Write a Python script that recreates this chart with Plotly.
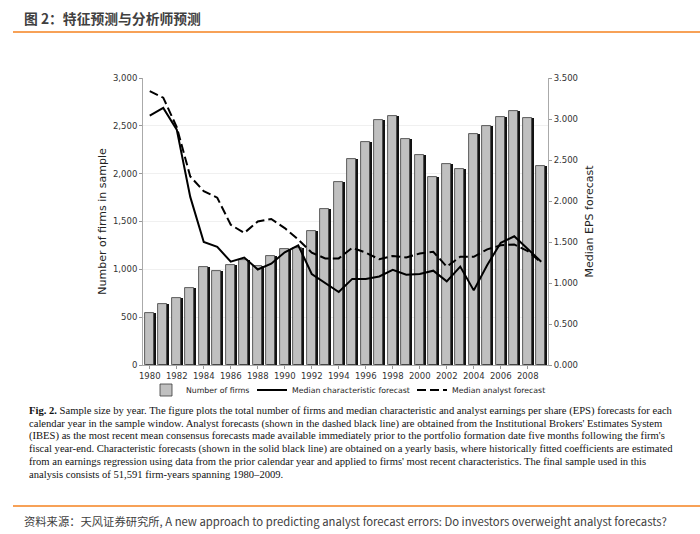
import plotly.graph_objects as go

years = list(range(1980, 2010))
firms = [545, 640, 705, 800, 1025, 985, 1050, 1100, 1040, 1135,
         1215, 1225, 1405, 1630, 1915, 2150, 2330, 2560, 2605, 2360,
         2200, 1965, 2105, 2045, 2410, 2495, 2595, 2660, 2580, 2085]
char_fc = [3.04, 3.135, 2.87, 2.05, 1.50, 1.44, 1.26, 1.31, 1.165, 1.235,
           1.375, 1.46, 1.11, 1.00, 0.89, 1.05, 1.05, 1.08, 1.16, 1.10,
           1.11, 1.15, 1.02, 1.20, 0.91, 1.22, 1.49, 1.57, 1.41, 1.26]
analyst_fc = [3.34, 3.26, 2.90, 2.30, 2.12, 2.04, 1.71, 1.61, 1.75, 1.78,
              1.67, 1.53, 1.37, 1.30, 1.30, 1.43, 1.37, 1.29, 1.33, 1.31,
              1.36, 1.38, 1.20, 1.32, 1.32, 1.41, 1.46, 1.47, 1.39, 1.25]
left_ticks = [0, 500, 1000, 1500, 2000, 2500, 3000]
right_ticks = [0, 0.5, 1.0, 1.5, 2.0, 2.5, 3.0, 3.5]
label_years = list(range(1980, 2009, 2))

title_text = "图 2：特征预测与分析师预测"
caption_lines = [
    "<b>Fig. 2.</b> Sample size by year. The figure plots the total number of firms and median characteristic and analyst earnings per share (EPS) forecasts for each",
    "calendar year in the sample window. Analyst forecasts (shown in the dashed black line) are obtained from the Institutional Brokers' Estimates System",
    "(IBES) as the most recent mean consensus forecasts made available immediately prior to the portfolio formation date five months following the firm's",
    "fiscal year-end. Characteristic forecasts (shown in the solid black line) are obtained on a yearly basis, where historically fitted coefficients are estimated",
    "from an earnings regression using data from the prior calendar year and applied to firms' most recent characteristics. The final sample used in this",
    "analysis consists of 51,591 firm-years spanning 1980–2009.",
]
source_text = "资料来源：天风证券研究所, A new approach to predicting analyst forecast errors: Do investors overweight analyst forecasts?"

W, H = 700, 534
L, R, T, B = 143, 548, 78, 365


def px_x(px):
    return (px - L) / (R - L)


def px_y(py):
    return (B - py) / (B - T)


fig = go.Figure()
fig.add_trace(go.Bar(x=years, y=firms, width=0.74, offset=-0.3,
                     marker=dict(color="#111111", line=dict(width=0)),
                     showlegend=False, hoverinfo="skip"))
fig.add_trace(go.Bar(x=years, y=firms, width=0.67, offset=-0.37,
                     marker=dict(color="#c0c0c0", line=dict(color="#3a3a3a", width=0.8)),
                     name="Number of firms", legend="legend"))
fig.add_trace(go.Scatter(x=years, y=char_fc, yaxis="y2", mode="lines",
                         line=dict(color="black", width=2),
                         name="Median characteristic forecast", legend="legend2"))
fig.add_trace(go.Scatter(x=years, y=analyst_fc, yaxis="y2", mode="lines",
                         line=dict(color="black", width=2, dash="9px,4px"),
                         name="Median analyst forecast", legend="legend3"))

axis_font = dict(family="DejaVu Sans", size=8.5, color="#333333")
leg_font = dict(family="DejaVu Sans", size=7.8, color="#222222")


def leg(xpx):
    return dict(orientation="h", x=px_x(xpx), y=px_y(390), xanchor="left", yanchor="middle",
                font=leg_font, bgcolor="rgba(0,0,0,0)", borderwidth=0, itemwidth=30)


fig.update_layout(
    width=W, height=H,
    margin=dict(l=L, r=W - R, t=T, b=H - B, pad=0, autoexpand=False),
    paper_bgcolor="white", plot_bgcolor="white",
    barmode="overlay", bargap=0,
    showlegend=True,
    legend=leg(146), legend2=leg(252), legend3=leg(412),
    xaxis=dict(range=[1979.5, 2009.5], tickmode="array", tickvals=label_years,
               ticktext=[str(y) for y in label_years], ticks="outside", ticklen=3,
               tickcolor="#999999", showline=True, linecolor="#aaaaaa", linewidth=1,
               showgrid=False, zeroline=False, tickfont=axis_font),
    yaxis=dict(range=[0, 3000], tickmode="array", tickvals=left_ticks,
               tickformat=",", ticks="outside", ticklen=3, tickcolor="#999999",
               showline=True, linecolor="#aaaaaa", linewidth=1,
               showgrid=True, gridcolor="#f0f0f0", zeroline=False, tickfont=axis_font,
               title=dict(text="Number of firms in sample", standoff=4,
                          font=dict(family="DejaVu Sans", size=11, color="#222222"))),
    yaxis2=dict(range=[0, 3.5], tickmode="array", tickvals=right_ticks,
                tickformat=".3f", overlaying="y", side="right", ticks="outside",
                ticklen=3, tickcolor="#999999", showline=True, linecolor="#aaaaaa",
                linewidth=1, showgrid=False, zeroline=False, tickfont=axis_font,
                title=dict(text="Median EPS forecast", standoff=8,
                           font=dict(family="DejaVu Sans", size=11, color="#222222"))),
)

annotations = [
    dict(text="<b>" + title_text + "</b>", x=px_x(22), y=px_y(18),
         font=dict(family="Noto Sans CJK SC", size=13.8, color="#404040")),
    dict(text=source_text, x=px_x(22), y=px_y(521),
         font=dict(family="Noto Sans CJK SC", size=11.3, color="#404040")),
]
for i, line in enumerate(caption_lines):
    annotations.append(dict(text=line, x=px_x(27), y=px_y(411 + 12.6 * i),
                            font=dict(family="Liberation Serif", size=10.6, color="#111111")))
for a in annotations:
    a.update(xref="paper", yref="paper", xanchor="left", yanchor="middle", showarrow=False)
fig.update_layout(annotations=annotations)

fig.update_layout(shapes=[
    dict(type="line", xref="paper", yref="paper", x0=px_x(13), x1=px_x(700),
         y0=px_y(32), y1=px_y(32), line=dict(color="#F5821F", width=1.5)),
    dict(type="line", xref="paper", yref="paper", x0=px_x(13), x1=px_x(700),
         y0=px_y(506), y1=px_y(506), line=dict(color="#F5821F", width=1.5)),
])

fig.write_html("out.html", config={"displayModeBar": False},
               post_script="document.body.style.margin='0px';")
